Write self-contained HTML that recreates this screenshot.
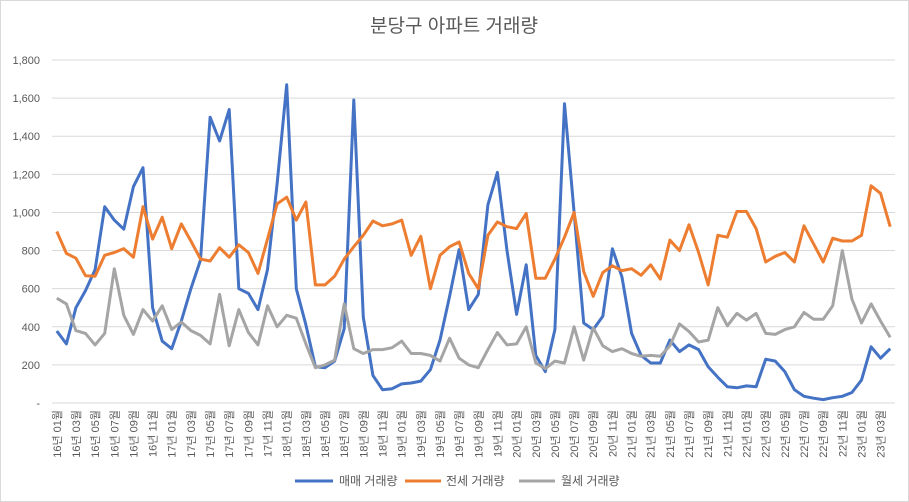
<!DOCTYPE html>
<html><head><meta charset="utf-8"><style>
body{margin:0;background:#fff;}
svg{display:block;font-family:"Liberation Sans","Noto Sans CJK KR",sans-serif;}
</style></head><body>
<svg id="chart" width="909" height="502" viewBox="0 0 909 502">
<rect x="0.5" y="0.5" width="908" height="501" fill="#fff" stroke="#d9d9d9"/>
<text x="454" y="32" text-anchor="middle" font-size="19" fill="#595959">분당구 아파트 거래량</text>
<g id="grid"></g><g id="yaxis"></g><g id="xaxis"></g><g id="series"></g>
<g>
<g><line x1="295" y1="481" x2="333" y2="481" stroke="#4472c4" stroke-width="3"/><text x="339" y="485" font-size="12" fill="#595959">매매 거래량</text></g>
<g><line x1="405" y1="481" x2="441" y2="481" stroke="#ed7d31" stroke-width="3"/><text x="446" y="485" font-size="12" fill="#595959">전세 거래량</text></g>
<g><line x1="519" y1="481" x2="555" y2="481" stroke="#a5a5a5" stroke-width="3"/><text x="561" y="485" font-size="12" fill="#595959">월세 거래량</text></g>
</g>
</svg>
<script>
const sale=[378,310,500,590,700,1030,960,912,1135,1235,500,325,285,430,600,750,1500,1375,1540,600,575,490,700,1150,1670,600,410,190,185,220,390,1590,450,145,70,75,100,105,115,175,330,560,805,490,570,1040,1210,800,465,725,250,165,385,1570,1000,420,385,455,810,660,365,250,210,210,330,270,305,280,190,135,85,80,90,85,230,220,165,70,35,25,18,28,35,55,120,295,235,285];
const jeonse=[900,785,760,668,665,775,790,810,765,1030,860,975,810,940,850,755,745,815,765,830,790,680,860,1045,1080,960,1055,620,620,665,755,820,880,955,930,940,960,775,875,600,775,820,845,680,600,880,950,925,915,995,655,655,755,870,1000,690,560,685,720,695,705,670,725,650,855,800,935,790,620,880,870,1005,1005,915,740,770,790,740,930,835,740,865,850,850,880,1140,1100,925];
const wolse=[550,520,380,365,305,365,705,460,360,490,430,510,385,425,380,355,310,570,300,490,370,305,510,400,460,445,310,185,200,225,520,285,260,280,280,290,325,260,260,250,220,340,235,200,185,280,370,305,310,400,210,180,220,210,400,225,395,300,270,285,260,245,250,245,300,415,375,320,330,500,405,470,435,470,365,360,385,400,475,440,440,510,800,545,420,520,430,345];
const yTicks=[0,200,400,600,800,1000,1200,1400,1600,1800];
const yTickLabels=["-","200","400","600","800","1,000","1,200","1,400","1,600","1,800"];
const startYear=16,startMonth=1;
const NS="http://www.w3.org/2000/svg";
const n=sale.length;
const x0=52,x1=895,yTop=60,yBot=403,yMax=1800;
const step=(x1-x0)/n;
function X(i){return x0+step*(i+0.5);}
function Y(v){return yBot-(v/yMax)*(yBot-yTop);}
function mk(tag,attrs,parent){const e=document.createElementNS(NS,tag);for(const k in attrs)e.setAttribute(k,attrs[k]);parent.appendChild(e);return e;}
const grid=document.getElementById('grid'),ya=document.getElementById('yaxis'),xa=document.getElementById('xaxis'),ser=document.getElementById('series');
yTicks.forEach((t,i)=>{
  const l=mk('line',{x1:x0,x2:x1,y1:Y(t),y2:Y(t),stroke:'#d9d9d9','stroke-width':1},grid);
  
  
  const tx=mk('text',{x:40,y:Y(t)+4,'text-anchor':'end','font-size':11,fill:'#595959'},ya);
  tx.textContent=yTickLabels[i];
  
  
});
for(let i=0;i<n;i+=2){
  const m=startMonth-1+i;const yy=startYear+Math.floor(m/12);const mm=(m%12)+1;
  const lab=yy+"년 "+String(mm).padStart(2,'0')+"월";
  const xx=X(i);
  const tx=mk('text',{x:0,y:0,transform:`translate(${xx+4},410) rotate(-90)`,'text-anchor':'end','font-size':11,fill:'#595959'},xa);
  tx.textContent=lab;
  
  
}
[[sale,'#4472c4','sale-line'],[jeonse,'#ed7d31','jeonse-line'],[wolse,'#a5a5a5','wolse-line']].forEach(([d,c,nm])=>{
  const p=mk('polyline',{points:d.map((v,i)=>X(i).toFixed(1)+','+Y(v).toFixed(1)).join(' '),fill:'none',stroke:c,'stroke-width':3,'stroke-linejoin':'round'},ser);
  
  
});
</script>
</body></html>
